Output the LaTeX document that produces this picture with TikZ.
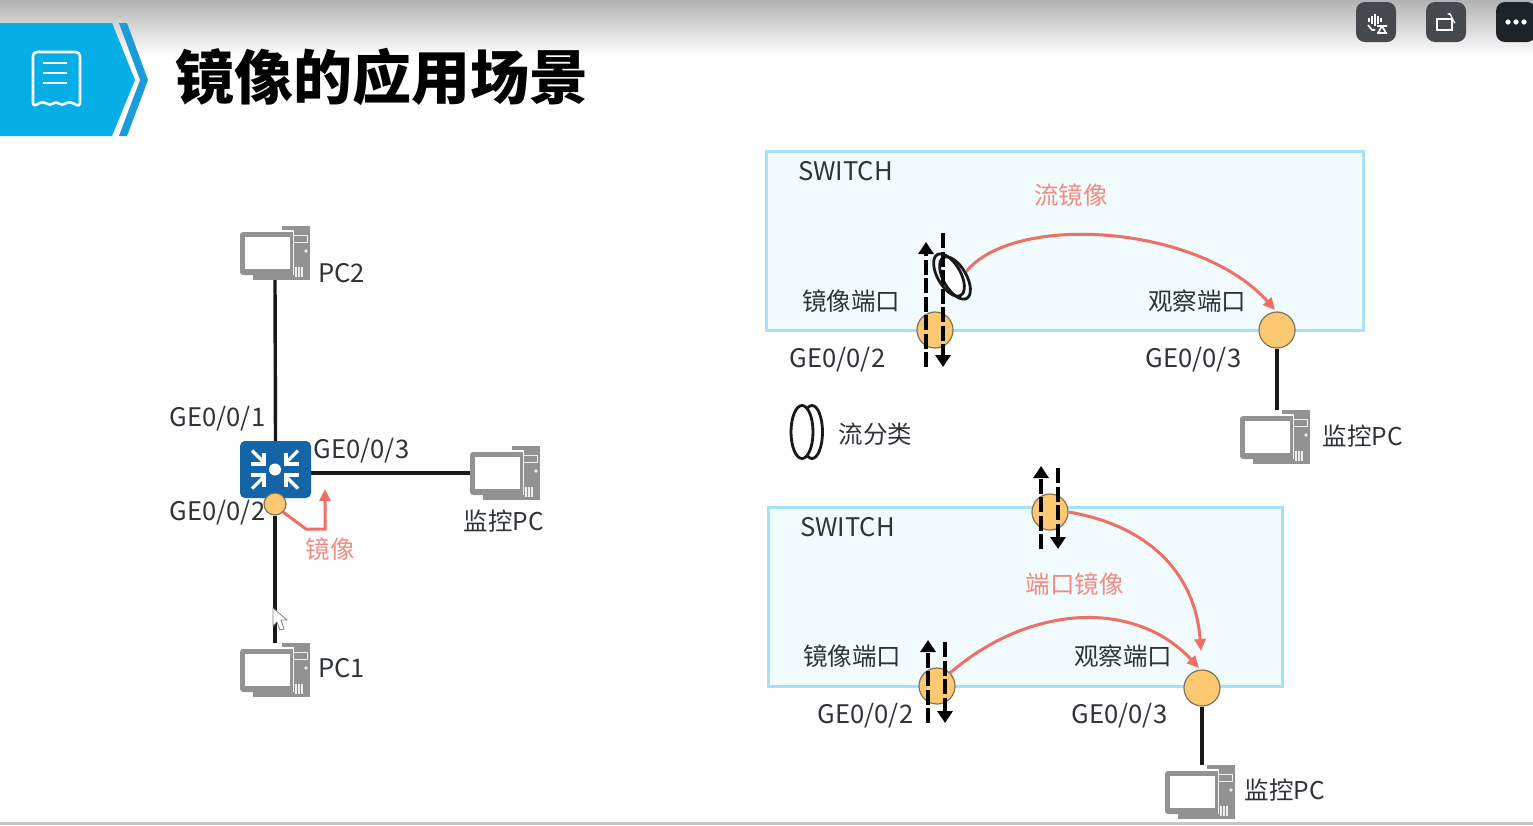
\documentclass[tikz,border=0pt]{standalone}
\usepackage{fontspec}
\setmainfont{Noto Sans CJK SC}
\usepackage{xcolor}
\definecolor{hdrblue}{HTML}{05AEE6}
\definecolor{hdrstripe}{HTML}{1B9BD7}
\definecolor{swblue}{HTML}{1464A8}
\definecolor{portfill}{HTML}{FCC871}
\definecolor{portline}{HTML}{7E7456}
\definecolor{boxline}{HTML}{A6E1F4}
\definecolor{boxfill}{HTML}{F2FBFE}
\definecolor{mirred}{HTML}{EE6F63}
\definecolor{mirtext}{HTML}{F08C82}
\definecolor{txtgrey}{HTML}{2F3338}
\definecolor{pcgrey}{HTML}{929292}
\definecolor{btngrey}{HTML}{45494E}
\definecolor{btndark}{HTML}{1E2328}
\usetikzlibrary{positioning,arrows.meta,shapes.geometric,calc}
\tikzset{
  lbl/.style    ={inner sep=0pt, text=txtgrey, font=\fontsize{24.5}{28}\selectfont},
  latlbl/.style ={lbl, font=\fontsize{25.6}{28}\selectfont},
  redlbl/.style ={lbl, text=mirtext},
  swbox/.style  ={rectangle, draw=boxline, fill=boxfill, line width=3pt, anchor=north west, inner sep=0pt},
  port/.style   ={circle, draw=portline, fill=portfill, line width=1.2pt, minimum size=36pt, inner sep=0pt},
  smallport/.style={port, minimum size=22pt},
  pcbox/.style  ={rectangle, minimum width=70pt, minimum height=54pt, inner sep=0pt},
  link/.style   ={draw=black!90, line width=3.4pt},
  mirarr/.style ={-{Triangle[length=12pt,width=11pt]}, draw=mirred, line width=3pt},
  flowup/.style ={-{Triangle[length=12pt,width=15pt]}, line width=4.4pt, dash pattern=on 15pt off 3.5pt},
  ringf/.style  ={ellipse, draw=black!90, line width=2.8pt, inner sep=0pt},
  btn/.style    ={rectangle, rounded corners=9pt, minimum size=40pt, inner sep=0pt},
  pcicon/.pic={
    \fill[pcgrey] (7,-27) rectangle (35,27);
    \draw[white!85!pcgrey, line width=1pt] (18,-18) rectangle (32,-11);
    \fill[white!85!pcgrey] (31,-2) circle (1.8);
    \foreach \gx in {21,24,27} \draw[white!85!pcgrey, line width=1.2pt] (\gx,14) -- (\gx,24);
    \fill[pcgrey] (-10,14) rectangle (0,24);
    \fill[pcgrey] (-22,22) rectangle (18,27);
    \draw[white, line width=1.5pt] (7,-22) -- (18.5,-22) -- (18.5,22);
    \fill[pcgrey, rounded corners=3pt] (-35,-21) rectangle (18,22);
    \fill[white] (-30,-16) rectangle (15,16);
  },
}
\newcommand{\pcnode}[2]{
  \node[pcbox] (#1) at (#2) {};
  \pic at (#1) {pcicon};
}
\newcommand{\flowpair}[3]{
  \coordinate (#1ub) at ($(#1)+(-9,37)$);
  \coordinate (#1ut) at ($(#1)+(-9,#2)$);
  \coordinate (#1dt) at ($(#1)+(8,#3)$);
  \coordinate (#1db) at ($(#1)+(8,37)$);
  \draw[flowup] (#1ub) -- (#1ut);
  \draw[flowup] (#1dt) -- (#1db);
}

\begin{document}
\begin{tikzpicture}[x=1pt,y=-1pt]
  \useasboundingbox (0,0) rectangle (1533,825);
  \fill[white] (0,0) rectangle (1533,825);
  % top band and header
  \shade[top color=black!30, bottom color=white] (0,0) rectangle (1533,56);
  \fill[black!22] (0,822) rectangle (1533,825);
  \fill[hdrblue] (0,23) -- (112,23) -- (135,80) -- (112,136) -- (0,136) -- cycle;
  \fill[hdrstripe] (119,23) -- (127,23) -- (148,80) -- (127,136) -- (119,136) -- (140,80) -- cycle;
  \draw[white, line width=2.6pt, line join=round, rounded corners=4pt] (33,52) -- (80,52) -- (80,107)
    -- (69,101) -- (62,106) -- (56,101) -- (50,106) -- (43,101) -- (33,107) -- cycle;
  \foreach \ly in {63,73,83} \draw[white, line width=2.6pt] (43,\ly) -- (67,\ly);
  \node[inner sep=0pt, font=\fontsize{59}{60}\selectfont\bfseries] (title) at (382,77) {镜像的应用场景};

  % window buttons
  \node[btn, fill=btngrey] (btna) at (1376,22) {};
  \node[btn, fill=btngrey] (btnb) at (1446,22) {};
  \node[btn, fill=btndark] (btnc) at (1516,22) {};
  \foreach \bx/\bh in {1369/2,1372/4,1375/6,1378/4,1381/2}
    \draw[white, line width=1.8pt] (\bx,20-\bh) -- (\bx,20+\bh);
  \draw[white, line width=1.6pt] (1368,25) -- (1372,30) -- (1375,30) (1377,26) -- (1387,26) (1382,26) -- (1378,33) (1382,26) -- (1386,33) (1377,33) -- (1387,33);
  \draw[white, line width=1.4pt] (1437,19) rectangle (1452,30);
  \draw[white, line width=1.2pt, -{Stealth[length=4pt]}] (1455,22) to[out=-90,in=0] (1447,14);
  \foreach \dx in {1508,1516,1524} \fill[white] (\dx,22) circle (2.6);

  % left network
  \node[rectangle, rounded corners=5pt, fill=swblue, minimum width=71pt, minimum height=57pt, inner sep=0pt] (sw) at (275.5,469.5) {};
  \foreach \sx/\sy in {-1/-1,1/-1,-1/1,1/1} {
    \draw[white, line width=3.2pt] (275+23*\sx,469.5+19*\sy) -- (275+11*\sx,469.5+7*\sy);
    \draw[white, line width=3.2pt, line join=miter] (275+11*\sx,469.5+17*\sy) -- (275+11*\sx,469.5+5.5*\sy) -- (275+24*\sx,469.5+5.5*\sy);
  }
  \fill[white] (275,469.5) circle (6);
  \pcnode{pctop}{275,253}
  \pcnode{pcbot}{275,670}
  \pcnode{pcmon}{505,473}
  \node[smallport] (swport) at (275,504) {};
  \draw[link] (pctop.south) -- (sw.north);
  \draw[link] (swport.south) -- (pcbot.north);
  \draw[link] (sw.east |- pcmon.west) -- (pcmon.west);
  \coordinate (mirtip) at (325,489);
  \draw[mirarr] (swport.south east) -- (306,529) -- (325,529) -- (mirtip);
  \fill[white, draw=black!50, line width=.8pt] (273,608) -- (273,626) -- (277,622) -- (280,630) -- (284,629) -- (281,620) -- (287,620) -- cycle;
  \node[latlbl, right=8pt of pctop, yshift=-20pt] (pctoplbl) {PC2};
  \node[latlbl, right=8pt of pcbot, yshift=2pt] (pcbotlbl) {PC1};
  \node[lbl] (monlbl) at (504,521.5) {监控PC};
  \node[latlbl] (ge1) at (217.5,419) {GE0/0/1};
  \node[latlbl] (ge3) at (361.5,451) {GE0/0/3};
  \node[latlbl] (ge2) at (217.5,513) {GE0/0/2};
  \node[redlbl] (mirlbl) at (330,549) {镜像};

  % flow mirror box
  \node[swbox, minimum width=597pt, minimum height=179pt] (boxa) at (765,150) {};
  \node[latlbl] (swa) at (845.5,171) {SWITCH};
  \node[redlbl] (flowlbl) at (1071,195) {流镜像};
  \node[lbl] (srca) at (851,301) {镜像端口};
  \node[lbl] (obsa) at (1197,301) {观察端口};
  \node[latlbl] (gea) at (837.5,360) {GE0/0/2};
  \node[latlbl] (geb) at (1193.5,360) {GE0/0/3};
  \node[port] (porta) at (935,330) {};
  \node[port] (portb) at (1277,330) {};
  \node[ringf, fill=white, rotate=30, minimum width=23pt, minimum height=47pt] (ringb) at (955,278) {};
  \flowpair{porta}{-88}{-97}
  \node[ringf, rotate=30, minimum width=23pt, minimum height=47pt] (ringa) at (949,275) {};
  \coordinate (tipb) at (1275,310);
  \draw[mirarr] (ringb.east) .. controls (1015,212) and (1200,225) .. (tipb);
  \pcnode{pcmona}{1275,437}
  \draw[link] (portb.south) -- (portb.south |- pcmona.north);
  \node[lbl] (monalbl) at (1363,436.5) {监控PC};
  \node[ringf, minimum width=21pt, minimum height=53pt] (legb) at (812,432) {};
  \node[ringf, fill=white, minimum width=22pt, minimum height=53pt] (lega) at (802,432) {};
  \node[lbl] (leglbl) at (875.5,434) {流分类};

  % port mirror box
  \node[swbox, minimum width=514pt, minimum height=179pt] (boxb) at (767,506) {};
  \node[latlbl] (swb) at (847.5,527) {SWITCH};
  \node[redlbl] (portlbl) at (1074.5,584) {端口镜像};
  \node[lbl] (srcb) at (852,656) {镜像端口};
  \node[lbl] (obsb) at (1123,656) {观察端口};
  \node[latlbl] (gec) at (865.5,716) {GE0/0/2};
  \node[latlbl] (ged) at (1119.5,716) {GE0/0/3};
  \node[port] (portc) at (1050,512) {};
  \node[port] (portd) at (937,686) {};
  \node[port] (porte) at (1202,688) {};
  \flowpair{portc}{-46}{-44}
  \flowpair{portd}{-46}{-44}
  \coordinate (tipc) at (1201,651);
  \draw[mirarr] (portc.east) .. controls (1145,525) and (1195,570) .. (tipc);
  \coordinate (tipd) at (1199,668);
  \draw[mirarr] (portd.north east) .. controls (1030,604) and (1135,599) .. (tipd);
  \pcnode{pcmonb}{1200,792}
  \draw[link] (porte.south) -- (porte.south |- pcmonb.north);
  \node[lbl] (monblbl) at (1285,790.5) {监控PC};
\end{tikzpicture}
\end{document}
